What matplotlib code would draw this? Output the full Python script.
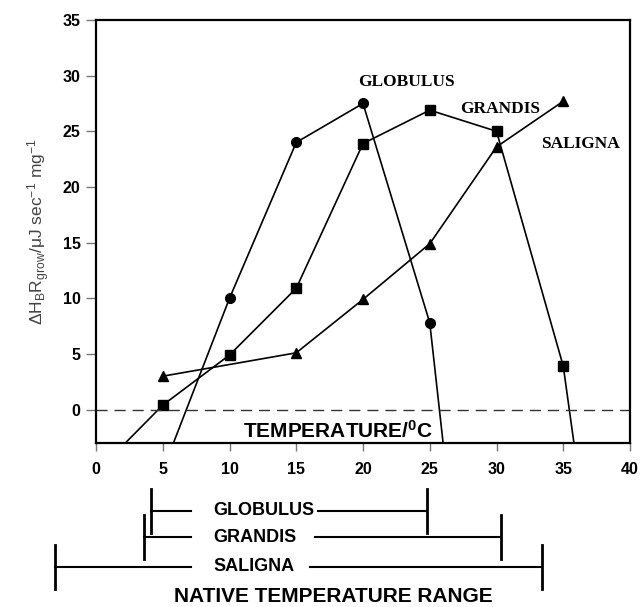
import matplotlib.pyplot as plt
import matplotlib.transforms as mtransforms

plt.rcParams['font.family'] = ['Liberation Sans', 'DejaVu Sans']
plt.rcParams['mathtext.fontset'] = 'custom'
plt.rcParams['mathtext.rm'] = 'Liberation Sans'
plt.rcParams['mathtext.it'] = 'Liberation Sans'
plt.rcParams['mathtext.bf'] = 'Liberation Sans:bold'

# growth rate data (temperature in C)
glob_t = [5.8, 10, 15, 20, 25, 26.0]
glob_v = [-3, 10, 24, 27.5, 7.8, -3]
grand_t = [2.2, 5, 10, 15, 20, 25, 30, 35, 35.8]
grand_v = [-3, 0.4, 4.9, 10.9, 23.9, 26.9, 25.0, 3.9, -3]
salig_t = [5, 15, 20, 25, 30, 35]
salig_v = [3.0, 5.1, 9.9, 14.9, 23.6, 27.7]

# native temperature ranges
species = ['GLOBULUS', 'GRANDIS', 'SALIGNA']
native_low = [4.1, 3.6, -3.1]
native_high = [24.8, 30.3, 33.4]

fig = plt.figure(figsize=(6.43, 6.07), dpi=100)
ax = fig.add_axes([0.1493, 0.2702, 0.8305, 0.6969])

ax.plot(glob_t, glob_v, color='black', lw=1.2, marker='o', ms=7, markevery=[1, 2, 3, 4])
ax.plot(grand_t, grand_v, color='black', lw=1.2, marker='s', ms=6.5, markevery=list(range(1, 8)))
ax.plot(salig_t, salig_v, color='black', lw=1.2, marker='^', ms=6.5)
ax.axhline(0, color='#333333', lw=1, dashes=(8, 5))

ax.set_xlim(0, 40)
ax.set_ylim(-3, 35)
ax.set_xticks(range(0, 41, 5))
ax.set_yticks(range(0, 36, 5))
for s in ax.spines.values():
    s.set_linewidth(1.6)
ax.tick_params(axis='x', direction='out', length=6, width=1, color='#777777', pad=8)
ax.tick_params(axis='y', direction='out', length=7, width=1, color='#777777', pad=4)
for lab in ax.get_xticklabels() + ax.get_yticklabels():
    lab.set_fontweight('bold')
    lab.set_fontsize(11.5)

ax.text(19.6, 29.4, 'GLOBULUS', family='Liberation Serif', weight='bold', fontsize=12.5, va='center')
ax.text(27.3, 27.0, 'GRANDIS', family='Liberation Serif', weight='bold', fontsize=12.5, va='center')
ax.text(33.3, 23.9, 'SALIGNA', family='Liberation Serif', weight='bold', fontsize=12.5, va='center')
ax.text(11.0, -2.5, r'TEMPERATURE/$\mathbf{^0}$C', weight='bold', fontsize=15, va='baseline')

ax.set_ylabel(r'$\Delta$H$_B$R$_{grow}$/$\mu$J sec$^{-1}$ mg$^{-1}$', fontsize=12.5,
              color='#444444', labelpad=8)

# native range bars below the axis
tr = mtransforms.blended_transform_factory(ax.transData, fig.transFigure)
bar_y = [0.1582, 0.1153, 0.0659]
right_start = [16.6, 16.4, 16.05]
for name, lo, hi, y, rs in zip(species, native_low, native_high, bar_y, right_start):
    ax.plot([lo, 7.1], [y, y], color='black', lw=1.5, transform=tr, clip_on=False)
    ax.plot([rs, hi], [y, y], color='black', lw=1.5, transform=tr, clip_on=False)
    ax.plot([lo, lo], [y - 0.037, y + 0.037], color='black', lw=2, transform=tr, clip_on=False)
    ax.plot([hi, hi], [y - 0.037, y + 0.037], color='black', lw=2, transform=tr, clip_on=False)
    ax.text(8.8, y, name, weight='bold', fontsize=13, va='center', transform=tr)

fig.text(333 / 643, 1 - 597 / 607, 'NATIVE TEMPERATURE RANGE', weight='bold', fontsize=15,
         ha='center', va='center')

fig.savefig('out.png', dpi=100)
